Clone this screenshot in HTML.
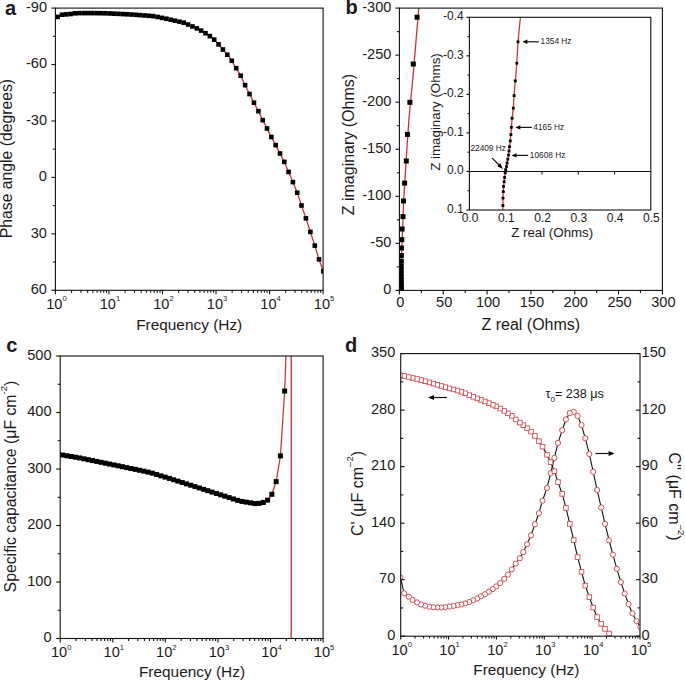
<!DOCTYPE html>
<html><head><meta charset="utf-8"><title>Figure</title><style>
html,body{margin:0;padding:0;background:#fff;width:685px;height:680px;overflow:hidden}
svg{display:block}
text{font-family:"Liberation Sans",sans-serif}
</style></head><body>
<svg width="685" height="680" viewBox="0 0 685 680" font-family='"Liberation Sans", sans-serif' fill="#1a1a1a"><defs><clipPath id="ca"><rect x="55.4" y="8.1" width="267.70000000000005" height="282.2"/></clipPath><clipPath id="cb"><rect x="399.4" y="8.1" width="263.0" height="282.29999999999995"/></clipPath><clipPath id="ci"><rect x="469.4" y="17.3" width="181.39999999999998" height="192.7"/></clipPath><clipPath id="cc"><rect x="60.2" y="356.0" width="262.90000000000003" height="282.5"/></clipPath><clipPath id="cd"><rect x="400.7" y="353.6" width="239.3" height="282.6"/></clipPath></defs><rect width="685" height="680" fill="#fff"/><g clip-path="url(#ca)">
<polyline points="200.00,29.93 201.00,30.51 202.00,31.09 203.00,31.67 204.00,32.25 205.00,32.91 206.00,33.57 207.00,34.23 208.00,34.88 209.00,35.54 210.00,36.20 211.00,37.02 212.00,37.84 213.00,38.65 214.00,39.47 215.00,40.46 216.00,41.56 217.00,42.65 218.00,43.75 219.00,44.89 220.00,46.07 221.00,47.25 222.00,48.44 223.00,49.62 224.00,50.80 225.00,51.97 226.00,53.15 227.00,54.33 228.00,55.62 229.00,56.98 230.00,58.35 231.00,59.71 232.00,61.14 233.00,62.82 234.00,64.50 235.00,66.18 236.00,67.86 237.00,69.55 238.00,71.23 239.00,72.91 240.00,74.59 241.00,76.46 242.00,78.60 243.00,80.75 244.00,82.90 245.00,85.00 246.00,87.00 247.00,89.00 248.00,91.00 249.00,93.00 250.00,94.96 251.00,96.91 252.00,98.87 253.00,100.82 254.00,102.76 255.00,104.68 256.00,106.60 257.00,108.51 258.00,110.43 259.00,112.44 260.00,114.52 261.00,116.59 262.00,118.66 263.00,120.67 264.00,122.60 265.00,124.53 266.00,126.46 267.00,128.40 268.00,130.38 269.00,132.35 270.00,134.33 271.00,136.31 272.00,138.22 273.00,140.10 274.00,141.99 275.00,143.87 276.00,145.77 277.00,147.70 278.00,149.64 279.00,151.57 280.00,153.50 281.00,155.45 282.00,157.41 283.00,159.36 284.00,161.32 285.00,163.50 286.00,165.85 287.00,168.19 288.00,170.53 289.00,172.87 290.00,175.24 291.00,177.60 292.00,179.97 293.00,182.35 294.00,184.83 295.00,187.30 296.00,189.78 297.00,192.26 298.00,195.08 299.00,198.06 300.00,201.04 301.00,204.01 302.00,206.94 303.00,209.83 304.00,212.72 305.00,215.60 306.00,218.51 307.00,221.57 308.00,224.64 309.00,227.71 310.00,230.77 311.00,233.85 312.00,236.95 313.00,240.04 314.00,243.13 315.00,246.25 316.00,249.51 317.00,252.78 318.00,256.04 319.00,259.30 320.00,262.09 321.00,264.88 322.00,267.67 323.00,270.46 324.00,273.67 325.00,277.06" fill="none" stroke="#cc3030" stroke-width="1.25"/>
<rect x="321.00" y="269.00" width="4.6" height="4.6" fill="#000"/>
<rect x="316.70" y="257.00" width="4.6" height="4.6" fill="#000"/>
<rect x="312.50" y="243.30" width="4.6" height="4.6" fill="#000"/>
<rect x="308.07" y="229.60" width="4.6" height="4.6" fill="#000"/>
<rect x="303.63" y="216.00" width="4.6" height="4.6" fill="#000"/>
<rect x="299.20" y="203.20" width="4.6" height="4.6" fill="#000"/>
<rect x="294.90" y="190.45" width="4.6" height="4.6" fill="#000"/>
<rect x="290.60" y="179.80" width="4.6" height="4.6" fill="#000"/>
<rect x="286.30" y="169.63" width="4.6" height="4.6" fill="#000"/>
<rect x="282.00" y="159.60" width="4.6" height="4.6" fill="#000"/>
<rect x="277.70" y="151.20" width="4.6" height="4.6" fill="#000"/>
<rect x="273.38" y="142.85" width="4.6" height="4.6" fill="#000"/>
<rect x="269.06" y="134.71" width="4.6" height="4.6" fill="#000"/>
<rect x="264.74" y="126.18" width="4.6" height="4.6" fill="#000"/>
<rect x="260.42" y="117.82" width="4.6" height="4.6" fill="#000"/>
<rect x="256.10" y="108.90" width="4.6" height="4.6" fill="#000"/>
<rect x="251.66" y="100.38" width="4.6" height="4.6" fill="#000"/>
<rect x="247.22" y="91.72" width="4.6" height="4.6" fill="#000"/>
<rect x="242.78" y="82.86" width="4.6" height="4.6" fill="#000"/>
<rect x="238.34" y="73.39" width="4.6" height="4.6" fill="#000"/>
<rect x="233.90" y="65.90" width="4.6" height="4.6" fill="#000"/>
<rect x="229.47" y="58.45" width="4.6" height="4.6" fill="#000"/>
<rect x="225.03" y="52.42" width="4.6" height="4.6" fill="#000"/>
<rect x="220.60" y="47.20" width="4.6" height="4.6" fill="#000"/>
<rect x="216.25" y="42.06" width="4.6" height="4.6" fill="#000"/>
<rect x="211.90" y="37.34" width="4.6" height="4.6" fill="#000"/>
<rect x="207.55" y="33.80" width="4.6" height="4.6" fill="#000"/>
<rect x="203.20" y="30.94" width="4.6" height="4.6" fill="#000"/>
<rect x="198.85" y="28.30" width="4.6" height="4.6" fill="#000"/>
<rect x="194.50" y="26.08" width="4.6" height="4.6" fill="#000"/>
<rect x="190.15" y="24.17" width="4.6" height="4.6" fill="#000"/>
<rect x="185.80" y="22.25" width="4.6" height="4.6" fill="#000"/>
<rect x="181.45" y="20.39" width="4.6" height="4.6" fill="#000"/>
<rect x="177.10" y="19.39" width="4.6" height="4.6" fill="#000"/>
<rect x="172.75" y="18.39" width="4.6" height="4.6" fill="#000"/>
<rect x="168.40" y="17.39" width="4.6" height="4.6" fill="#000"/>
<rect x="164.05" y="16.45" width="4.6" height="4.6" fill="#000"/>
<rect x="159.70" y="15.55" width="4.6" height="4.6" fill="#000"/>
<rect x="155.35" y="14.65" width="4.6" height="4.6" fill="#000"/>
<rect x="151.00" y="13.85" width="4.6" height="4.6" fill="#000"/>
<rect x="146.65" y="13.51" width="4.6" height="4.6" fill="#000"/>
<rect x="142.30" y="13.17" width="4.6" height="4.6" fill="#000"/>
<rect x="137.95" y="12.83" width="4.6" height="4.6" fill="#000"/>
<rect x="133.60" y="12.50" width="4.6" height="4.6" fill="#000"/>
<rect x="129.25" y="12.23" width="4.6" height="4.6" fill="#000"/>
<rect x="124.90" y="12.01" width="4.6" height="4.6" fill="#000"/>
<rect x="120.55" y="11.79" width="4.6" height="4.6" fill="#000"/>
<rect x="116.20" y="11.58" width="4.6" height="4.6" fill="#000"/>
<rect x="111.85" y="11.38" width="4.6" height="4.6" fill="#000"/>
<rect x="107.50" y="11.17" width="4.6" height="4.6" fill="#000"/>
<rect x="103.15" y="10.97" width="4.6" height="4.6" fill="#000"/>
<rect x="98.80" y="10.88" width="4.6" height="4.6" fill="#000"/>
<rect x="94.45" y="10.85" width="4.6" height="4.6" fill="#000"/>
<rect x="90.10" y="10.82" width="4.6" height="4.6" fill="#000"/>
<rect x="85.75" y="10.81" width="4.6" height="4.6" fill="#000"/>
<rect x="81.40" y="10.82" width="4.6" height="4.6" fill="#000"/>
<rect x="77.05" y="10.84" width="4.6" height="4.6" fill="#000"/>
<rect x="72.70" y="11.01" width="4.6" height="4.6" fill="#000"/>
<rect x="68.35" y="11.70" width="4.6" height="4.6" fill="#000"/>
<rect x="64.00" y="12.08" width="4.6" height="4.6" fill="#000"/>
<rect x="59.65" y="12.40" width="4.6" height="4.6" fill="#000"/>
<rect x="55.30" y="14.60" width="4.6" height="4.6" fill="#000"/>
<rect x="50.95" y="15.23" width="4.6" height="4.6" fill="#000"/>
<rect x="46.60" y="15.70" width="4.6" height="4.6" fill="#000"/>
</g>
<rect x="55.40" y="8.10" width="267.70" height="282.20" fill="none" stroke="#111" stroke-width="1.1"/>
<line x1="55.40" y1="8.10" x2="51.40" y2="8.10" stroke="#111" stroke-width="1.1" />
<line x1="55.40" y1="64.54" x2="51.40" y2="64.54" stroke="#111" stroke-width="1.1" />
<line x1="55.40" y1="120.98" x2="51.40" y2="120.98" stroke="#111" stroke-width="1.1" />
<line x1="55.40" y1="177.42" x2="51.40" y2="177.42" stroke="#111" stroke-width="1.1" />
<line x1="55.40" y1="233.86" x2="51.40" y2="233.86" stroke="#111" stroke-width="1.1" />
<line x1="55.40" y1="290.30" x2="51.40" y2="290.30" stroke="#111" stroke-width="1.1" />
<line x1="55.40" y1="36.32" x2="52.90" y2="36.32" stroke="#111" stroke-width="1.1" />
<line x1="55.40" y1="92.76" x2="52.90" y2="92.76" stroke="#111" stroke-width="1.1" />
<line x1="55.40" y1="149.20" x2="52.90" y2="149.20" stroke="#111" stroke-width="1.1" />
<line x1="55.40" y1="205.64" x2="52.90" y2="205.64" stroke="#111" stroke-width="1.1" />
<line x1="55.40" y1="262.08" x2="52.90" y2="262.08" stroke="#111" stroke-width="1.1" />
<text transform="translate(47.00,11.90) scale(1,1.06)" font-size="14.6" text-anchor="end" >-90</text>
<text transform="translate(47.00,68.34) scale(1,1.06)" font-size="14.6" text-anchor="end" >-60</text>
<text transform="translate(47.00,124.78) scale(1,1.06)" font-size="14.6" text-anchor="end" >-30</text>
<text transform="translate(47.00,181.22) scale(1,1.06)" font-size="14.6" text-anchor="end" >0</text>
<text transform="translate(47.00,237.66) scale(1,1.06)" font-size="14.6" text-anchor="end" >30</text>
<text transform="translate(47.00,294.10) scale(1,1.06)" font-size="14.6" text-anchor="end" >60</text>
<line x1="55.40" y1="290.30" x2="55.40" y2="294.30" stroke="#111" stroke-width="1.1" />
<line x1="71.52" y1="290.30" x2="71.52" y2="292.80" stroke="#111" stroke-width="1.1" />
<line x1="80.95" y1="290.30" x2="80.95" y2="292.80" stroke="#111" stroke-width="1.1" />
<line x1="87.63" y1="290.30" x2="87.63" y2="292.80" stroke="#111" stroke-width="1.1" />
<line x1="92.82" y1="290.30" x2="92.82" y2="292.80" stroke="#111" stroke-width="1.1" />
<line x1="97.06" y1="290.30" x2="97.06" y2="292.80" stroke="#111" stroke-width="1.1" />
<line x1="100.65" y1="290.30" x2="100.65" y2="292.80" stroke="#111" stroke-width="1.1" />
<line x1="103.75" y1="290.30" x2="103.75" y2="292.80" stroke="#111" stroke-width="1.1" />
<line x1="106.49" y1="290.30" x2="106.49" y2="292.80" stroke="#111" stroke-width="1.1" />
<text transform="translate(56.40,308.90) scale(1,1.06)" font-size="14.6" text-anchor="middle">10<tspan font-size="7.6" dy="-7.08">0</tspan></text>
<line x1="108.94" y1="290.30" x2="108.94" y2="294.30" stroke="#111" stroke-width="1.1" />
<line x1="125.06" y1="290.30" x2="125.06" y2="292.80" stroke="#111" stroke-width="1.1" />
<line x1="134.49" y1="290.30" x2="134.49" y2="292.80" stroke="#111" stroke-width="1.1" />
<line x1="141.17" y1="290.30" x2="141.17" y2="292.80" stroke="#111" stroke-width="1.1" />
<line x1="146.36" y1="290.30" x2="146.36" y2="292.80" stroke="#111" stroke-width="1.1" />
<line x1="150.60" y1="290.30" x2="150.60" y2="292.80" stroke="#111" stroke-width="1.1" />
<line x1="154.19" y1="290.30" x2="154.19" y2="292.80" stroke="#111" stroke-width="1.1" />
<line x1="157.29" y1="290.30" x2="157.29" y2="292.80" stroke="#111" stroke-width="1.1" />
<line x1="160.03" y1="290.30" x2="160.03" y2="292.80" stroke="#111" stroke-width="1.1" />
<text transform="translate(109.94,308.90) scale(1,1.06)" font-size="14.6" text-anchor="middle">10<tspan font-size="7.6" dy="-7.08">1</tspan></text>
<line x1="162.48" y1="290.30" x2="162.48" y2="294.30" stroke="#111" stroke-width="1.1" />
<line x1="178.60" y1="290.30" x2="178.60" y2="292.80" stroke="#111" stroke-width="1.1" />
<line x1="188.03" y1="290.30" x2="188.03" y2="292.80" stroke="#111" stroke-width="1.1" />
<line x1="194.71" y1="290.30" x2="194.71" y2="292.80" stroke="#111" stroke-width="1.1" />
<line x1="199.90" y1="290.30" x2="199.90" y2="292.80" stroke="#111" stroke-width="1.1" />
<line x1="204.14" y1="290.30" x2="204.14" y2="292.80" stroke="#111" stroke-width="1.1" />
<line x1="207.73" y1="290.30" x2="207.73" y2="292.80" stroke="#111" stroke-width="1.1" />
<line x1="210.83" y1="290.30" x2="210.83" y2="292.80" stroke="#111" stroke-width="1.1" />
<line x1="213.57" y1="290.30" x2="213.57" y2="292.80" stroke="#111" stroke-width="1.1" />
<text transform="translate(163.48,308.90) scale(1,1.06)" font-size="14.6" text-anchor="middle">10<tspan font-size="7.6" dy="-7.08">2</tspan></text>
<line x1="216.02" y1="290.30" x2="216.02" y2="294.30" stroke="#111" stroke-width="1.1" />
<line x1="232.14" y1="290.30" x2="232.14" y2="292.80" stroke="#111" stroke-width="1.1" />
<line x1="241.57" y1="290.30" x2="241.57" y2="292.80" stroke="#111" stroke-width="1.1" />
<line x1="248.25" y1="290.30" x2="248.25" y2="292.80" stroke="#111" stroke-width="1.1" />
<line x1="253.44" y1="290.30" x2="253.44" y2="292.80" stroke="#111" stroke-width="1.1" />
<line x1="257.68" y1="290.30" x2="257.68" y2="292.80" stroke="#111" stroke-width="1.1" />
<line x1="261.27" y1="290.30" x2="261.27" y2="292.80" stroke="#111" stroke-width="1.1" />
<line x1="264.37" y1="290.30" x2="264.37" y2="292.80" stroke="#111" stroke-width="1.1" />
<line x1="267.11" y1="290.30" x2="267.11" y2="292.80" stroke="#111" stroke-width="1.1" />
<text transform="translate(217.02,308.90) scale(1,1.06)" font-size="14.6" text-anchor="middle">10<tspan font-size="7.6" dy="-7.08">3</tspan></text>
<line x1="269.56" y1="290.30" x2="269.56" y2="294.30" stroke="#111" stroke-width="1.1" />
<line x1="285.68" y1="290.30" x2="285.68" y2="292.80" stroke="#111" stroke-width="1.1" />
<line x1="295.11" y1="290.30" x2="295.11" y2="292.80" stroke="#111" stroke-width="1.1" />
<line x1="301.79" y1="290.30" x2="301.79" y2="292.80" stroke="#111" stroke-width="1.1" />
<line x1="306.98" y1="290.30" x2="306.98" y2="292.80" stroke="#111" stroke-width="1.1" />
<line x1="311.22" y1="290.30" x2="311.22" y2="292.80" stroke="#111" stroke-width="1.1" />
<line x1="314.81" y1="290.30" x2="314.81" y2="292.80" stroke="#111" stroke-width="1.1" />
<line x1="317.91" y1="290.30" x2="317.91" y2="292.80" stroke="#111" stroke-width="1.1" />
<line x1="320.65" y1="290.30" x2="320.65" y2="292.80" stroke="#111" stroke-width="1.1" />
<text transform="translate(270.56,308.90) scale(1,1.06)" font-size="14.6" text-anchor="middle">10<tspan font-size="7.6" dy="-7.08">4</tspan></text>
<line x1="323.10" y1="290.30" x2="323.10" y2="294.30" stroke="#111" stroke-width="1.1" />
<text transform="translate(324.10,308.90) scale(1,1.06)" font-size="14.6" text-anchor="middle">10<tspan font-size="7.6" dy="-7.08">5</tspan></text>
<text x="189.20" y="329.60" font-size="15.4" text-anchor="middle" >Frequency (Hz)</text>
<text transform="translate(11.8,158.6) rotate(-90)" font-size="15.75" text-anchor="middle">Phase angle (degrees)</text>
<text x="5.00" y="14.60" font-size="20" text-anchor="start" font-weight="bold" >a</text>
<g clip-path="url(#cb)">
<polyline points="420.5,-10 418.8,8 414.4,60 412.7,80 410.7,100 408.9,120 406.8,150 403.7,200 402.6,230 401.8,250 400.8,271.6 399.6,291" fill="none" stroke="#cc3030" stroke-width="1.3"/>
<rect x="414.60" y="14.70" width="5" height="5" fill="#000"/>
<rect x="410.80" y="61.50" width="5" height="5" fill="#000"/>
<rect x="407.40" y="99.80" width="5" height="5" fill="#000"/>
<rect x="405.00" y="131.90" width="5" height="5" fill="#000"/>
<rect x="403.80" y="158.50" width="5" height="5" fill="#000"/>
<rect x="402.10" y="180.60" width="5" height="5" fill="#000"/>
<rect x="401.00" y="198.50" width="5" height="5" fill="#000"/>
<rect x="400.50" y="214.10" width="5" height="5" fill="#000"/>
<rect x="399.60" y="226.50" width="5" height="5" fill="#000"/>
<rect x="399.30" y="237.20" width="5" height="5" fill="#000"/>
<rect x="398.90" y="245.50" width="5" height="5" fill="#000"/>
<rect x="398.90" y="253.00" width="5" height="5" fill="#000"/>
<rect x="398.81" y="258.76" width="5" height="5" fill="#000"/>
<rect x="398.73" y="263.72" width="5" height="5" fill="#000"/>
<rect x="398.67" y="267.83" width="5" height="5" fill="#000"/>
<rect x="398.61" y="271.25" width="5" height="5" fill="#000"/>
<rect x="398.57" y="274.08" width="5" height="5" fill="#000"/>
<rect x="398.53" y="276.43" width="5" height="5" fill="#000"/>
<rect x="398.50" y="278.38" width="5" height="5" fill="#000"/>
<rect x="398.44" y="280.00" width="5" height="5" fill="#000"/>
<rect x="398.38" y="281.35" width="5" height="5" fill="#000"/>
<rect x="398.33" y="282.46" width="5" height="5" fill="#000"/>
<rect x="398.29" y="283.39" width="5" height="5" fill="#000"/>
<rect x="398.26" y="284.15" width="5" height="5" fill="#000"/>
<rect x="398.23" y="284.79" width="5" height="5" fill="#000"/>
<rect x="398.21" y="285.32" width="5" height="5" fill="#000"/>
<rect x="398.19" y="285.76" width="5" height="5" fill="#000"/>
<rect x="398.18" y="286.12" width="5" height="5" fill="#000"/>
<rect x="398.16" y="286.43" width="5" height="5" fill="#000"/>
<rect x="398.15" y="286.68" width="5" height="5" fill="#000"/>
<rect x="398.14" y="286.88" width="5" height="5" fill="#000"/>
<rect x="398.14" y="287.06" width="5" height="5" fill="#000"/>
<rect x="398.13" y="287.20" width="5" height="5" fill="#000"/>
<rect x="398.12" y="287.32" width="5" height="5" fill="#000"/>
<rect x="398.12" y="287.42" width="5" height="5" fill="#000"/>
<rect x="398.12" y="287.50" width="5" height="5" fill="#000"/>
<rect x="398.11" y="287.57" width="5" height="5" fill="#000"/>
<rect x="398.11" y="287.62" width="5" height="5" fill="#000"/>
<rect x="398.11" y="287.67" width="5" height="5" fill="#000"/>
<rect x="398.11" y="287.71" width="5" height="5" fill="#000"/>
<rect x="398.11" y="287.74" width="5" height="5" fill="#000"/>
<rect x="398.11" y="287.77" width="5" height="5" fill="#000"/>
<rect x="398.10" y="287.79" width="5" height="5" fill="#000"/>
<rect x="398.10" y="287.81" width="5" height="5" fill="#000"/>
<rect x="398.10" y="287.83" width="5" height="5" fill="#000"/>
<rect x="398.10" y="287.84" width="5" height="5" fill="#000"/>
<rect x="398.10" y="287.85" width="5" height="5" fill="#000"/>
<rect x="398.10" y="287.86" width="5" height="5" fill="#000"/>
<rect x="398.10" y="287.86" width="5" height="5" fill="#000"/>
<rect x="398.10" y="287.87" width="5" height="5" fill="#000"/>
<rect x="398.10" y="287.88" width="5" height="5" fill="#000"/>
<rect x="398.10" y="287.88" width="5" height="5" fill="#000"/>
<rect x="398.10" y="287.88" width="5" height="5" fill="#000"/>
<rect x="398.10" y="287.89" width="5" height="5" fill="#000"/>
<rect x="398.10" y="287.89" width="5" height="5" fill="#000"/>
<rect x="398.10" y="287.89" width="5" height="5" fill="#000"/>
<rect x="398.10" y="287.89" width="5" height="5" fill="#000"/>
<rect x="398.10" y="287.89" width="5" height="5" fill="#000"/>
<rect x="398.10" y="287.89" width="5" height="5" fill="#000"/>
<rect x="398.10" y="287.90" width="5" height="5" fill="#000"/>
<rect x="398.10" y="287.90" width="5" height="5" fill="#000"/>
<rect x="398.10" y="287.90" width="5" height="5" fill="#000"/>
<rect x="398.10" y="287.90" width="5" height="5" fill="#000"/>
<rect x="398.10" y="287.90" width="5" height="5" fill="#000"/>
<rect x="398.10" y="287.90" width="5" height="5" fill="#000"/>
<rect x="398.10" y="287.90" width="5" height="5" fill="#000"/>
<rect x="398.10" y="287.90" width="5" height="5" fill="#000"/>
<rect x="398.10" y="287.90" width="5" height="5" fill="#000"/>
<rect x="398.10" y="287.90" width="5" height="5" fill="#000"/>
<rect x="398.10" y="287.90" width="5" height="5" fill="#000"/>
</g>
<rect x="399.40" y="8.10" width="263.00" height="282.30" fill="none" stroke="#111" stroke-width="1.1"/>
<line x1="399.40" y1="290.40" x2="395.40" y2="290.40" stroke="#111" stroke-width="1.1" />
<line x1="399.40" y1="243.35" x2="395.40" y2="243.35" stroke="#111" stroke-width="1.1" />
<line x1="399.40" y1="196.30" x2="395.40" y2="196.30" stroke="#111" stroke-width="1.1" />
<line x1="399.40" y1="149.25" x2="395.40" y2="149.25" stroke="#111" stroke-width="1.1" />
<line x1="399.40" y1="102.20" x2="395.40" y2="102.20" stroke="#111" stroke-width="1.1" />
<line x1="399.40" y1="55.15" x2="395.40" y2="55.15" stroke="#111" stroke-width="1.1" />
<line x1="399.40" y1="8.10" x2="395.40" y2="8.10" stroke="#111" stroke-width="1.1" />
<line x1="399.40" y1="266.88" x2="396.90" y2="266.88" stroke="#111" stroke-width="1.1" />
<line x1="399.40" y1="219.82" x2="396.90" y2="219.82" stroke="#111" stroke-width="1.1" />
<line x1="399.40" y1="172.77" x2="396.90" y2="172.77" stroke="#111" stroke-width="1.1" />
<line x1="399.40" y1="125.72" x2="396.90" y2="125.72" stroke="#111" stroke-width="1.1" />
<line x1="399.40" y1="78.68" x2="396.90" y2="78.68" stroke="#111" stroke-width="1.1" />
<line x1="399.40" y1="31.63" x2="396.90" y2="31.63" stroke="#111" stroke-width="1.1" />
<line x1="399.40" y1="290.40" x2="399.40" y2="294.40" stroke="#111" stroke-width="1.1" />
<line x1="443.23" y1="290.40" x2="443.23" y2="294.40" stroke="#111" stroke-width="1.1" />
<line x1="487.07" y1="290.40" x2="487.07" y2="294.40" stroke="#111" stroke-width="1.1" />
<line x1="530.90" y1="290.40" x2="530.90" y2="294.40" stroke="#111" stroke-width="1.1" />
<line x1="574.73" y1="290.40" x2="574.73" y2="294.40" stroke="#111" stroke-width="1.1" />
<line x1="618.57" y1="290.40" x2="618.57" y2="294.40" stroke="#111" stroke-width="1.1" />
<line x1="662.40" y1="290.40" x2="662.40" y2="294.40" stroke="#111" stroke-width="1.1" />
<line x1="421.32" y1="290.40" x2="421.32" y2="292.90" stroke="#111" stroke-width="1.1" />
<line x1="465.15" y1="290.40" x2="465.15" y2="292.90" stroke="#111" stroke-width="1.1" />
<line x1="508.98" y1="290.40" x2="508.98" y2="292.90" stroke="#111" stroke-width="1.1" />
<line x1="552.82" y1="290.40" x2="552.82" y2="292.90" stroke="#111" stroke-width="1.1" />
<line x1="596.65" y1="290.40" x2="596.65" y2="292.90" stroke="#111" stroke-width="1.1" />
<line x1="640.48" y1="290.40" x2="640.48" y2="292.90" stroke="#111" stroke-width="1.1" />
<text transform="translate(391.40,294.20) scale(1,1.06)" font-size="14.6" text-anchor="end" >0</text>
<text transform="translate(400.40,306.80) scale(1,1.06)" font-size="14.6" text-anchor="middle" >0</text>
<text transform="translate(391.40,247.15) scale(1,1.06)" font-size="14.6" text-anchor="end" >-50</text>
<text transform="translate(444.23,306.80) scale(1,1.06)" font-size="14.6" text-anchor="middle" >50</text>
<text transform="translate(391.40,200.10) scale(1,1.06)" font-size="14.6" text-anchor="end" >-100</text>
<text transform="translate(488.07,306.80) scale(1,1.06)" font-size="14.6" text-anchor="middle" >100</text>
<text transform="translate(391.40,153.05) scale(1,1.06)" font-size="14.6" text-anchor="end" >-150</text>
<text transform="translate(531.90,306.80) scale(1,1.06)" font-size="14.6" text-anchor="middle" >150</text>
<text transform="translate(391.40,106.00) scale(1,1.06)" font-size="14.6" text-anchor="end" >-200</text>
<text transform="translate(575.73,306.80) scale(1,1.06)" font-size="14.6" text-anchor="middle" >200</text>
<text transform="translate(391.40,58.95) scale(1,1.06)" font-size="14.6" text-anchor="end" >-250</text>
<text transform="translate(619.57,306.80) scale(1,1.06)" font-size="14.6" text-anchor="middle" >250</text>
<text transform="translate(391.40,11.90) scale(1,1.06)" font-size="14.6" text-anchor="end" >-300</text>
<text transform="translate(663.40,306.80) scale(1,1.06)" font-size="14.6" text-anchor="middle" >300</text>
<text x="530.80" y="329.80" font-size="16.0" text-anchor="middle" >Z real (Ohms)</text>
<text transform="translate(353.8,144.6) rotate(-90)" font-size="16.0" text-anchor="middle">Z imaginary (Ohms)</text>
<text x="345.40" y="14.40" font-size="20" text-anchor="start" font-weight="bold" >b</text>
<rect x="469.4" y="17.3" width="181.39999999999998" height="192.7" fill="#fff" stroke="none"/>
<g clip-path="url(#ci)">
<line x1="469.40" y1="171.46" x2="650.80" y2="171.46" stroke="#111" stroke-width="1.1" />
<polyline points="520.60,14.00 520.48,16.00 520.33,18.00 520.14,20.00 519.94,22.00 519.74,24.00 519.55,26.00 519.35,28.00 519.16,30.00 518.96,32.00 518.76,34.00 518.57,36.00 518.37,38.00 518.18,40.00 517.99,42.00 517.88,44.00 517.76,46.00 517.65,48.00 517.54,50.00 517.43,52.00 517.32,54.00 517.20,56.00 517.09,58.00 516.98,60.00 516.87,62.00 516.73,64.00 516.56,66.00 516.39,68.00 516.22,70.00 516.05,72.00 515.88,74.00 515.72,76.00 515.55,78.00 515.38,80.00 515.21,82.00 515.05,84.00 514.88,86.00 514.72,88.00 514.56,90.00 514.39,92.00 514.23,94.00 514.07,96.00 513.95,98.00 513.82,100.00 513.69,102.00 513.57,104.00 513.44,106.00 513.31,108.00 513.08,110.00 512.84,112.00 512.60,114.00 512.36,116.00 512.12,118.00 511.96,120.00 511.81,122.00 511.65,124.00 511.50,126.00 511.35,128.00 511.22,130.00 511.08,132.00 510.94,134.00 510.77,136.00 510.58,138.00 510.39,140.00 510.15,142.00 509.87,144.00 509.60,146.00 509.35,148.00 509.12,150.00 508.88,152.00 508.63,154.00 508.35,156.00 508.00,158.00 507.65,160.00 507.28,162.00 506.93,164.00 506.59,166.00 506.11,168.00 505.63,170.00 505.30,172.00 505.02,174.00 504.78,176.00 504.53,178.00 504.30,180.00 504.07,182.00 503.86,184.00 503.64,186.00 503.51,188.00 503.39,190.00 503.28,192.00 503.19,194.00 503.10,196.00 503.00,198.00 502.97,200.00 502.95,202.00 502.92,204.00 502.88,206.00 502.82,208.00 502.76,210.00 502.70,212.00" fill="none" stroke="#cc3030" stroke-width="1.25"/>
<rect x="501.50" y="204.10" width="2.8" height="2.8" fill="#000"/>
<rect x="501.60" y="196.70" width="2.8" height="2.8" fill="#000"/>
<rect x="501.90" y="190.20" width="2.8" height="2.8" fill="#000"/>
<rect x="502.20" y="185.00" width="2.8" height="2.8" fill="#000"/>
<rect x="502.70" y="180.30" width="2.8" height="2.8" fill="#000"/>
<rect x="503.20" y="176.00" width="2.8" height="2.8" fill="#000"/>
<rect x="503.80" y="171.20" width="2.8" height="2.8" fill="#000"/>
<rect x="504.30" y="168.20" width="2.8" height="2.8" fill="#000"/>
<rect x="505.10" y="165.10" width="2.8" height="2.8" fill="#000"/>
<rect x="505.70" y="161.60" width="2.8" height="2.8" fill="#000"/>
<rect x="506.40" y="157.80" width="2.8" height="2.8" fill="#000"/>
<rect x="507.10" y="153.70" width="2.8" height="2.8" fill="#000"/>
<rect x="507.60" y="149.60" width="2.8" height="2.8" fill="#000"/>
<rect x="508.10" y="145.30" width="2.8" height="2.8" fill="#000"/>
<rect x="508.90" y="139.50" width="2.8" height="2.8" fill="#000"/>
<rect x="509.50" y="133.20" width="2.8" height="2.8" fill="#000"/>
<rect x="510.00" y="125.90" width="2.8" height="2.8" fill="#000"/>
<rect x="510.70" y="116.80" width="2.8" height="2.8" fill="#000"/>
<rect x="511.90" y="106.80" width="2.8" height="2.8" fill="#000"/>
<rect x="512.70" y="94.20" width="2.8" height="2.8" fill="#000"/>
<rect x="513.90" y="79.50" width="2.8" height="2.8" fill="#000"/>
<rect x="515.40" y="61.80" width="2.8" height="2.8" fill="#000"/>
<rect x="516.60" y="40.40" width="2.8" height="2.8" fill="#000"/>
</g>
<rect x="469.40" y="17.30" width="181.40" height="192.70" fill="none" stroke="#111" stroke-width="1.1"/>
<line x1="469.40" y1="17.30" x2="466.40" y2="17.30" stroke="#111" stroke-width="1.1" />
<line x1="469.40" y1="55.84" x2="466.40" y2="55.84" stroke="#111" stroke-width="1.1" />
<line x1="469.40" y1="94.38" x2="466.40" y2="94.38" stroke="#111" stroke-width="1.1" />
<line x1="469.40" y1="132.92" x2="466.40" y2="132.92" stroke="#111" stroke-width="1.1" />
<line x1="469.40" y1="171.46" x2="466.40" y2="171.46" stroke="#111" stroke-width="1.1" />
<line x1="469.40" y1="210.00" x2="466.40" y2="210.00" stroke="#111" stroke-width="1.1" />
<line x1="469.40" y1="36.57" x2="467.60" y2="36.57" stroke="#111" stroke-width="1.1" />
<line x1="469.40" y1="75.11" x2="467.60" y2="75.11" stroke="#111" stroke-width="1.1" />
<line x1="469.40" y1="113.65" x2="467.60" y2="113.65" stroke="#111" stroke-width="1.1" />
<line x1="469.40" y1="152.19" x2="467.60" y2="152.19" stroke="#111" stroke-width="1.1" />
<line x1="469.40" y1="190.73" x2="467.60" y2="190.73" stroke="#111" stroke-width="1.1" />
<line x1="505.68" y1="171.46" x2="505.68" y2="174.46" stroke="#111" stroke-width="1.1" />
<line x1="541.96" y1="171.46" x2="541.96" y2="174.46" stroke="#111" stroke-width="1.1" />
<line x1="578.24" y1="171.46" x2="578.24" y2="174.46" stroke="#111" stroke-width="1.1" />
<line x1="614.52" y1="171.46" x2="614.52" y2="174.46" stroke="#111" stroke-width="1.1" />
<text transform="translate(463.60,20.30) scale(1,1.06)" font-size="12.0" text-anchor="end" >-0.4</text>
<text transform="translate(463.60,58.84) scale(1,1.06)" font-size="12.0" text-anchor="end" >-0.3</text>
<text transform="translate(463.60,97.38) scale(1,1.06)" font-size="12.0" text-anchor="end" >-0.2</text>
<text transform="translate(463.60,135.92) scale(1,1.06)" font-size="12.0" text-anchor="end" >-0.1</text>
<text transform="translate(463.60,174.46) scale(1,1.06)" font-size="12.0" text-anchor="end" >0.0</text>
<text transform="translate(463.60,213.00) scale(1,1.06)" font-size="12.0" text-anchor="end" >0.1</text>
<text x="470.00" y="221.50" font-size="12.0" text-anchor="middle" >0.0</text>
<text x="506.28" y="221.50" font-size="12.0" text-anchor="middle" >0.1</text>
<text x="542.56" y="221.50" font-size="12.0" text-anchor="middle" >0.2</text>
<text x="578.84" y="221.50" font-size="12.0" text-anchor="middle" >0.3</text>
<text x="615.12" y="221.50" font-size="12.0" text-anchor="middle" >0.4</text>
<text x="651.40" y="221.50" font-size="12.0" text-anchor="middle" >0.5</text>
<text x="552.20" y="237.40" font-size="13.3" text-anchor="middle" >Z real (Ohms)</text>
<text transform="translate(439.8,112.0) rotate(-90)" font-size="13.3" text-anchor="middle">Z imaginary (Ohms)</text>
<line x1="526.40" y1="41.80" x2="538.80" y2="41.80" stroke="#111" stroke-width="1.2" />
<path d="M522.40,41.80 L527.40,39.60 L527.40,44.00 Z" fill="#000"/>
<text transform="translate(540.60,44.30) scale(1,1.1)" font-size="8.3" text-anchor="start" >1354 Hz</text>
<line x1="519.30" y1="127.40" x2="531.80" y2="127.40" stroke="#111" stroke-width="1.2" />
<path d="M515.30,127.40 L520.30,125.20 L520.30,129.60 Z" fill="#000"/>
<text transform="translate(533.30,129.90) scale(1,1.1)" font-size="8.3" text-anchor="start" >4165 Hz</text>
<line x1="515.50" y1="155.40" x2="528.20" y2="155.40" stroke="#111" stroke-width="1.2" />
<path d="M511.50,155.40 L516.50,153.20 L516.50,157.60 Z" fill="#000"/>
<text transform="translate(529.80,157.90) scale(1,1.1)" font-size="8.3" text-anchor="start" >10608 Hz</text>
<text transform="translate(470.40,151.30) scale(1,1.1)" font-size="8.3" text-anchor="start" >22409 Hz</text>
<line x1="492.20" y1="158.20" x2="499.50" y2="165.50" stroke="#111" stroke-width="1.2" />
<path d="M502.9,168.9 L497.3,166.3 L500.3,163.3 Z" fill="#000"/>
<g clip-path="url(#cc)">
<polyline points="250.00,502.77 250.50,502.85 251.00,502.93 251.50,503.02 252.00,503.10 252.50,503.18 253.00,503.27 253.50,503.35 254.00,503.43 254.50,503.52 255.00,503.60 255.50,503.57 256.00,503.54 256.50,503.51 257.00,503.49 257.50,503.46 258.00,503.43 258.50,503.40 259.00,503.37 259.50,503.34 260.00,503.31 260.50,503.29 261.00,503.26 261.50,503.23 262.00,503.20 262.50,502.92 263.00,502.65 263.50,502.37 264.00,502.09 264.50,501.82 265.00,501.54 265.50,501.26 266.00,500.99 266.50,500.71 267.00,500.43 267.50,500.16 268.00,499.55 268.50,498.87 269.00,498.18 269.50,497.49 270.00,496.81 270.50,496.12 271.00,495.43 271.50,494.75 272.00,493.90 272.50,492.43 273.00,490.95 273.50,489.48 274.00,488.00 274.50,486.52 275.00,485.05 275.50,483.57 276.00,482.10 276.50,479.39 277.00,476.38 277.50,473.37 278.00,470.36 278.50,467.34 279.00,464.33 279.50,461.32 280.00,458.31 280.50,454.38 281.00,446.79 281.50,439.20 282.00,431.60 282.50,424.01 283.00,416.42 283.50,408.82 284.00,401.23 284.50,393.64 285.00,382.17 285.50,368.11 286.00,354.06 286.50,340.00" fill="none" stroke="#cc3030" stroke-width="1.25"/>
<line x1="291.20" y1="356.00" x2="291.20" y2="638.50" stroke="#cc3030" stroke-width="1.3" />
<rect x="282.17" y="388.56" width="5" height="5" fill="#000"/>
<rect x="277.90" y="453.40" width="5" height="5" fill="#000"/>
<rect x="273.63" y="479.12" width="5" height="5" fill="#000"/>
<rect x="269.36" y="491.75" width="5" height="5" fill="#000"/>
<rect x="265.09" y="497.61" width="5" height="5" fill="#000"/>
<rect x="260.82" y="499.97" width="5" height="5" fill="#000"/>
<rect x="256.55" y="500.87" width="5" height="5" fill="#000"/>
<rect x="252.28" y="501.06" width="5" height="5" fill="#000"/>
<rect x="248.01" y="500.35" width="5" height="5" fill="#000"/>
<rect x="243.74" y="499.64" width="5" height="5" fill="#000"/>
<rect x="239.47" y="498.93" width="5" height="5" fill="#000"/>
<rect x="235.20" y="497.85" width="5" height="5" fill="#000"/>
<rect x="230.93" y="496.47" width="5" height="5" fill="#000"/>
<rect x="226.66" y="495.09" width="5" height="5" fill="#000"/>
<rect x="222.39" y="493.70" width="5" height="5" fill="#000"/>
<rect x="218.12" y="492.32" width="5" height="5" fill="#000"/>
<rect x="213.85" y="490.94" width="5" height="5" fill="#000"/>
<rect x="209.58" y="489.57" width="5" height="5" fill="#000"/>
<rect x="205.31" y="488.20" width="5" height="5" fill="#000"/>
<rect x="201.04" y="486.83" width="5" height="5" fill="#000"/>
<rect x="196.77" y="485.47" width="5" height="5" fill="#000"/>
<rect x="192.50" y="484.10" width="5" height="5" fill="#000"/>
<rect x="188.23" y="482.73" width="5" height="5" fill="#000"/>
<rect x="183.96" y="481.37" width="5" height="5" fill="#000"/>
<rect x="179.69" y="480.00" width="5" height="5" fill="#000"/>
<rect x="175.42" y="478.63" width="5" height="5" fill="#000"/>
<rect x="171.15" y="477.27" width="5" height="5" fill="#000"/>
<rect x="166.88" y="475.91" width="5" height="5" fill="#000"/>
<rect x="162.61" y="474.61" width="5" height="5" fill="#000"/>
<rect x="158.34" y="473.31" width="5" height="5" fill="#000"/>
<rect x="154.07" y="472.00" width="5" height="5" fill="#000"/>
<rect x="149.80" y="470.70" width="5" height="5" fill="#000"/>
<rect x="145.53" y="469.58" width="5" height="5" fill="#000"/>
<rect x="141.26" y="468.68" width="5" height="5" fill="#000"/>
<rect x="136.99" y="467.77" width="5" height="5" fill="#000"/>
<rect x="132.72" y="466.87" width="5" height="5" fill="#000"/>
<rect x="128.45" y="465.96" width="5" height="5" fill="#000"/>
<rect x="124.18" y="465.06" width="5" height="5" fill="#000"/>
<rect x="119.91" y="464.17" width="5" height="5" fill="#000"/>
<rect x="115.64" y="463.30" width="5" height="5" fill="#000"/>
<rect x="111.37" y="462.43" width="5" height="5" fill="#000"/>
<rect x="107.10" y="461.56" width="5" height="5" fill="#000"/>
<rect x="102.83" y="460.69" width="5" height="5" fill="#000"/>
<rect x="98.56" y="459.82" width="5" height="5" fill="#000"/>
<rect x="94.29" y="458.94" width="5" height="5" fill="#000"/>
<rect x="90.02" y="458.07" width="5" height="5" fill="#000"/>
<rect x="85.75" y="457.19" width="5" height="5" fill="#000"/>
<rect x="81.48" y="456.32" width="5" height="5" fill="#000"/>
<rect x="77.21" y="455.45" width="5" height="5" fill="#000"/>
<rect x="72.94" y="454.72" width="5" height="5" fill="#000"/>
<rect x="68.67" y="453.99" width="5" height="5" fill="#000"/>
<rect x="64.40" y="453.26" width="5" height="5" fill="#000"/>
<rect x="60.13" y="452.53" width="5" height="5" fill="#000"/>
<rect x="55.86" y="451.83" width="5" height="5" fill="#000"/>
<rect x="51.59" y="451.15" width="5" height="5" fill="#000"/>
</g>
<rect x="60.20" y="356.00" width="262.90" height="282.50" fill="none" stroke="#111" stroke-width="1.1"/>
<line x1="60.20" y1="638.50" x2="56.20" y2="638.50" stroke="#111" stroke-width="1.1" />
<line x1="60.20" y1="582.00" x2="56.20" y2="582.00" stroke="#111" stroke-width="1.1" />
<line x1="60.20" y1="525.50" x2="56.20" y2="525.50" stroke="#111" stroke-width="1.1" />
<line x1="60.20" y1="469.00" x2="56.20" y2="469.00" stroke="#111" stroke-width="1.1" />
<line x1="60.20" y1="412.50" x2="56.20" y2="412.50" stroke="#111" stroke-width="1.1" />
<line x1="60.20" y1="356.00" x2="56.20" y2="356.00" stroke="#111" stroke-width="1.1" />
<line x1="60.20" y1="610.25" x2="57.70" y2="610.25" stroke="#111" stroke-width="1.1" />
<line x1="60.20" y1="553.75" x2="57.70" y2="553.75" stroke="#111" stroke-width="1.1" />
<line x1="60.20" y1="497.25" x2="57.70" y2="497.25" stroke="#111" stroke-width="1.1" />
<line x1="60.20" y1="440.75" x2="57.70" y2="440.75" stroke="#111" stroke-width="1.1" />
<line x1="60.20" y1="384.25" x2="57.70" y2="384.25" stroke="#111" stroke-width="1.1" />
<text transform="translate(51.60,642.30) scale(1,1.06)" font-size="14.6" text-anchor="end" >0</text>
<text transform="translate(51.60,585.80) scale(1,1.06)" font-size="14.6" text-anchor="end" >100</text>
<text transform="translate(51.60,529.30) scale(1,1.06)" font-size="14.6" text-anchor="end" >200</text>
<text transform="translate(51.60,472.80) scale(1,1.06)" font-size="14.6" text-anchor="end" >300</text>
<text transform="translate(51.60,416.30) scale(1,1.06)" font-size="14.6" text-anchor="end" >400</text>
<text transform="translate(51.60,359.80) scale(1,1.06)" font-size="14.6" text-anchor="end" >500</text>
<line x1="60.20" y1="638.50" x2="60.20" y2="642.50" stroke="#111" stroke-width="1.1" />
<line x1="76.03" y1="638.50" x2="76.03" y2="641.00" stroke="#111" stroke-width="1.1" />
<line x1="85.29" y1="638.50" x2="85.29" y2="641.00" stroke="#111" stroke-width="1.1" />
<line x1="91.86" y1="638.50" x2="91.86" y2="641.00" stroke="#111" stroke-width="1.1" />
<line x1="96.95" y1="638.50" x2="96.95" y2="641.00" stroke="#111" stroke-width="1.1" />
<line x1="101.12" y1="638.50" x2="101.12" y2="641.00" stroke="#111" stroke-width="1.1" />
<line x1="104.64" y1="638.50" x2="104.64" y2="641.00" stroke="#111" stroke-width="1.1" />
<line x1="107.68" y1="638.50" x2="107.68" y2="641.00" stroke="#111" stroke-width="1.1" />
<line x1="110.37" y1="638.50" x2="110.37" y2="641.00" stroke="#111" stroke-width="1.1" />
<text transform="translate(61.20,657.10) scale(1,1.06)" font-size="14.6" text-anchor="middle">10<tspan font-size="7.6" dy="-7.08">0</tspan></text>
<line x1="112.78" y1="638.50" x2="112.78" y2="642.50" stroke="#111" stroke-width="1.1" />
<line x1="128.61" y1="638.50" x2="128.61" y2="641.00" stroke="#111" stroke-width="1.1" />
<line x1="137.87" y1="638.50" x2="137.87" y2="641.00" stroke="#111" stroke-width="1.1" />
<line x1="144.44" y1="638.50" x2="144.44" y2="641.00" stroke="#111" stroke-width="1.1" />
<line x1="149.53" y1="638.50" x2="149.53" y2="641.00" stroke="#111" stroke-width="1.1" />
<line x1="153.70" y1="638.50" x2="153.70" y2="641.00" stroke="#111" stroke-width="1.1" />
<line x1="157.22" y1="638.50" x2="157.22" y2="641.00" stroke="#111" stroke-width="1.1" />
<line x1="160.26" y1="638.50" x2="160.26" y2="641.00" stroke="#111" stroke-width="1.1" />
<line x1="162.95" y1="638.50" x2="162.95" y2="641.00" stroke="#111" stroke-width="1.1" />
<text transform="translate(113.78,657.10) scale(1,1.06)" font-size="14.6" text-anchor="middle">10<tspan font-size="7.6" dy="-7.08">1</tspan></text>
<line x1="165.36" y1="638.50" x2="165.36" y2="642.50" stroke="#111" stroke-width="1.1" />
<line x1="181.19" y1="638.50" x2="181.19" y2="641.00" stroke="#111" stroke-width="1.1" />
<line x1="190.45" y1="638.50" x2="190.45" y2="641.00" stroke="#111" stroke-width="1.1" />
<line x1="197.02" y1="638.50" x2="197.02" y2="641.00" stroke="#111" stroke-width="1.1" />
<line x1="202.11" y1="638.50" x2="202.11" y2="641.00" stroke="#111" stroke-width="1.1" />
<line x1="206.28" y1="638.50" x2="206.28" y2="641.00" stroke="#111" stroke-width="1.1" />
<line x1="209.80" y1="638.50" x2="209.80" y2="641.00" stroke="#111" stroke-width="1.1" />
<line x1="212.84" y1="638.50" x2="212.84" y2="641.00" stroke="#111" stroke-width="1.1" />
<line x1="215.53" y1="638.50" x2="215.53" y2="641.00" stroke="#111" stroke-width="1.1" />
<text transform="translate(166.36,657.10) scale(1,1.06)" font-size="14.6" text-anchor="middle">10<tspan font-size="7.6" dy="-7.08">2</tspan></text>
<line x1="217.94" y1="638.50" x2="217.94" y2="642.50" stroke="#111" stroke-width="1.1" />
<line x1="233.77" y1="638.50" x2="233.77" y2="641.00" stroke="#111" stroke-width="1.1" />
<line x1="243.03" y1="638.50" x2="243.03" y2="641.00" stroke="#111" stroke-width="1.1" />
<line x1="249.60" y1="638.50" x2="249.60" y2="641.00" stroke="#111" stroke-width="1.1" />
<line x1="254.69" y1="638.50" x2="254.69" y2="641.00" stroke="#111" stroke-width="1.1" />
<line x1="258.86" y1="638.50" x2="258.86" y2="641.00" stroke="#111" stroke-width="1.1" />
<line x1="262.38" y1="638.50" x2="262.38" y2="641.00" stroke="#111" stroke-width="1.1" />
<line x1="265.42" y1="638.50" x2="265.42" y2="641.00" stroke="#111" stroke-width="1.1" />
<line x1="268.11" y1="638.50" x2="268.11" y2="641.00" stroke="#111" stroke-width="1.1" />
<text transform="translate(218.94,657.10) scale(1,1.06)" font-size="14.6" text-anchor="middle">10<tspan font-size="7.6" dy="-7.08">3</tspan></text>
<line x1="270.52" y1="638.50" x2="270.52" y2="642.50" stroke="#111" stroke-width="1.1" />
<line x1="286.35" y1="638.50" x2="286.35" y2="641.00" stroke="#111" stroke-width="1.1" />
<line x1="295.61" y1="638.50" x2="295.61" y2="641.00" stroke="#111" stroke-width="1.1" />
<line x1="302.18" y1="638.50" x2="302.18" y2="641.00" stroke="#111" stroke-width="1.1" />
<line x1="307.27" y1="638.50" x2="307.27" y2="641.00" stroke="#111" stroke-width="1.1" />
<line x1="311.44" y1="638.50" x2="311.44" y2="641.00" stroke="#111" stroke-width="1.1" />
<line x1="314.96" y1="638.50" x2="314.96" y2="641.00" stroke="#111" stroke-width="1.1" />
<line x1="318.00" y1="638.50" x2="318.00" y2="641.00" stroke="#111" stroke-width="1.1" />
<line x1="320.69" y1="638.50" x2="320.69" y2="641.00" stroke="#111" stroke-width="1.1" />
<text transform="translate(271.52,657.10) scale(1,1.06)" font-size="14.6" text-anchor="middle">10<tspan font-size="7.6" dy="-7.08">4</tspan></text>
<line x1="323.10" y1="638.50" x2="323.10" y2="642.50" stroke="#111" stroke-width="1.1" />
<text transform="translate(324.10,657.10) scale(1,1.06)" font-size="14.6" text-anchor="middle">10<tspan font-size="7.6" dy="-7.08">5</tspan></text>
<text x="192.00" y="676.50" font-size="15.4" text-anchor="middle" >Frequency (Hz)</text>
<text transform="translate(16.0,486.6) rotate(-90)" font-size="15.8" text-anchor="middle">Specific capacitance (μF cm<tspan font-size="9.5" dy="-9.3">-2</tspan><tspan dy="9.3">)</tspan></text>
<text x="6.30" y="351.60" font-size="20" text-anchor="start" font-weight="bold" >c</text>
<g clip-path="url(#cd)">
<polyline points="398.00,375.28 399.00,375.38 400.00,375.47 401.00,375.56 402.00,375.66 403.00,375.75 404.00,375.91 405.00,376.14 406.00,376.37 407.00,376.59 408.00,376.82 409.00,377.05 410.00,377.29 411.00,377.54 412.00,377.78 413.00,378.02 414.00,378.27 415.00,378.51 416.00,378.75 417.00,379.01 418.00,379.27 419.00,379.54 420.00,379.80 421.00,380.07 422.00,380.34 423.00,380.60 424.00,380.87 425.00,381.15 426.00,381.44 427.00,381.73 428.00,382.02 429.00,382.31 430.00,382.60 431.00,382.89 432.00,383.18 433.00,383.48 434.00,383.79 435.00,384.09 436.00,384.39 437.00,384.70 438.00,385.00 439.00,385.31 440.00,385.61 441.00,385.90 442.00,386.19 443.00,386.49 444.00,386.78 445.00,387.07 446.00,387.36 447.00,387.65 448.00,387.94 449.00,388.22 450.00,388.48 451.00,388.75 452.00,389.02 453.00,389.29 454.00,389.56 455.00,389.83 456.00,390.10 457.00,390.43 458.00,390.76 459.00,391.09 460.00,391.42 461.00,391.75 462.00,392.07 463.00,392.40 464.00,392.75 465.00,393.20 466.00,393.66 467.00,394.11 468.00,394.57 469.00,395.02 470.00,395.48 471.00,395.94 472.00,396.38 473.00,396.77 474.00,397.16 475.00,397.56 476.00,397.95 477.00,398.34 478.00,398.73 479.00,399.13 480.00,399.52 481.00,399.93 482.00,400.33 483.00,400.74 484.00,401.14 485.00,401.55 486.00,401.95 487.00,402.36 488.00,402.77 489.00,403.19 490.00,403.62 491.00,404.04 492.00,404.46 493.00,404.88 494.00,405.31 495.00,405.73 496.00,406.23 497.00,406.79 498.00,407.35 499.00,407.91 500.00,408.46 501.00,409.02 502.00,409.58 503.00,410.13 504.00,410.75 505.00,411.39 506.00,412.03 507.00,412.68 508.00,413.32 509.00,413.96 510.00,414.60 511.00,415.24 512.00,416.05 513.00,416.98 514.00,417.90 515.00,418.82 516.00,419.64 517.00,420.41 518.00,421.18 519.00,421.95 520.00,422.70 521.00,423.45 522.00,424.20 523.00,424.95 524.00,425.74 525.00,426.53 526.00,427.33 527.00,428.12 528.00,428.99 529.00,429.87 530.00,430.75 531.00,431.62 532.00,432.68 533.00,433.78 534.00,434.88 535.00,435.98 536.00,437.29 537.00,438.65 538.00,440.01 539.00,441.36 540.00,442.86 541.00,444.38 542.00,445.89 543.00,447.52 544.00,449.31 545.00,451.11 546.00,452.90 547.00,454.81 548.00,456.84 549.00,458.86 550.00,460.89 551.00,463.06 552.00,465.47 553.00,467.88 554.00,470.29 555.00,473.01 556.00,476.04 557.00,479.07 558.00,482.10 559.00,484.90 560.00,487.69 561.00,490.49 562.00,493.28 563.00,496.72 564.00,500.59 565.00,504.46 566.00,508.33 567.00,512.38 568.00,516.49 569.00,520.59 570.00,524.70 571.00,528.88 572.00,533.07 573.00,537.25 574.00,541.47 575.00,545.81 576.00,550.15 577.00,554.49 578.00,558.61 579.00,562.38 580.00,566.15 581.00,569.92 582.00,573.62 583.00,577.25 584.00,580.88 585.00,584.51 586.00,587.61 587.00,590.49 588.00,593.37 589.00,596.25 590.00,599.01 591.00,601.69 592.00,604.38 593.00,607.06 594.00,609.55 595.00,611.98 596.00,614.42 597.00,616.86 598.00,618.57 599.00,620.20 600.00,621.84 601.00,623.47 602.00,624.85 603.00,626.17 604.00,627.48 605.00,628.80 606.00,629.95 607.00,631.09 608.00,632.24 609.00,633.39 610.00,635.69 611.00,638.13 612.00,640.56 613.00,643.00 614.00,644.75 615.00,646.50 616.00,648.25 617.00,650.00 618.00,651.30 619.00,652.61" fill="none" stroke="#111" stroke-width="1.1"/>
<polyline points="398.00,560.00 399.00,567.29 400.00,574.58 401.00,579.99 402.00,584.15 403.00,588.31 404.00,592.47 405.00,593.91 406.00,594.67 407.00,595.43 408.00,596.19 409.00,596.96 410.00,597.78 411.00,598.59 412.00,599.41 413.00,600.13 414.00,600.70 415.00,601.26 416.00,601.83 417.00,602.40 418.00,602.90 419.00,603.40 420.00,603.90 421.00,604.40 422.00,604.73 423.00,605.05 424.00,605.38 425.00,605.70 426.00,605.94 427.00,606.18 428.00,606.41 429.00,606.65 430.00,606.80 431.00,606.92 432.00,607.04 433.00,607.16 434.00,607.25 435.00,607.33 436.00,607.40 437.00,607.48 438.00,607.50 439.00,607.50 440.00,607.50 441.00,607.50 442.00,607.44 443.00,607.37 444.00,607.29 445.00,607.22 446.00,607.07 447.00,606.90 448.00,606.73 449.00,606.57 450.00,606.41 451.00,606.26 452.00,606.11 453.00,605.96 454.00,605.79 455.00,605.62 456.00,605.45 457.00,605.27 458.00,605.09 459.00,604.91 460.00,604.73 461.00,604.55 462.00,604.30 463.00,604.01 464.00,603.72 465.00,603.43 466.00,603.09 467.00,602.75 468.00,602.41 469.00,602.07 470.00,601.66 471.00,601.24 472.00,600.81 473.00,600.38 474.00,599.93 475.00,599.47 476.00,599.01 477.00,598.55 478.00,597.98 479.00,597.40 480.00,596.82 481.00,596.25 482.00,595.72 483.00,595.20 484.00,594.67 485.00,594.14 486.00,593.52 487.00,592.91 488.00,592.29 489.00,591.66 490.00,590.99 491.00,590.32 492.00,589.64 493.00,588.95 494.00,588.17 495.00,587.40 496.00,586.63 497.00,585.81 498.00,584.96 499.00,584.12 500.00,583.27 501.00,582.26 502.00,581.21 503.00,580.16 504.00,579.11 505.00,577.97 506.00,576.81 507.00,575.65 508.00,574.47 509.00,573.13 510.00,571.80 511.00,570.47 512.00,569.10 513.00,567.62 514.00,566.13 515.00,564.64 516.00,563.20 517.00,561.89 518.00,560.57 519.00,559.25 520.00,557.85 521.00,556.11 522.00,554.37 523.00,552.62 524.00,550.61 525.00,548.47 526.00,546.34 527.00,544.20 528.00,542.00 529.00,539.80 530.00,537.60 531.00,535.40 532.00,532.55 533.00,529.71 534.00,526.86 535.00,524.02 536.00,521.25 537.00,518.47 538.00,515.70 539.00,512.85 540.00,509.38 541.00,505.91 542.00,502.44 543.00,499.29 544.00,496.47 545.00,493.64 546.00,490.82 547.00,488.00 548.00,483.92 549.00,479.83 550.00,475.75 551.00,471.68 552.00,467.63 553.00,463.57 554.00,459.52 555.00,455.40 556.00,451.23 557.00,447.07 558.00,442.90 559.00,439.88 560.00,436.85 561.00,433.83 562.00,430.80 563.00,427.86 564.00,424.95 565.00,422.03 566.00,419.24 567.00,417.59 568.00,415.95 569.00,414.31 570.00,412.94 571.00,412.66 572.00,412.38 573.00,412.10 574.00,412.21 575.00,413.23 576.00,414.26 577.00,415.28 578.00,416.84 579.00,419.20 580.00,421.56 581.00,423.92 582.00,426.84 583.00,430.31 584.00,433.78 585.00,437.26 586.00,441.05 587.00,444.97 588.00,448.90 589.00,452.82 590.00,457.19 591.00,461.76 592.00,466.32 593.00,470.89 594.00,475.53 595.00,480.20 596.00,484.87 597.00,489.53 598.00,493.85 599.00,498.12 600.00,502.40 601.00,506.67 602.00,510.95 603.00,515.24 604.00,519.52 605.00,523.80 606.00,527.85 607.00,531.90 608.00,535.95 609.00,540.00 610.00,543.77 611.00,547.54 612.00,551.31 613.00,555.06 614.00,558.68 615.00,562.29 616.00,565.91 617.00,569.45 618.00,572.70 619.00,575.95 620.00,579.20 621.00,582.40 622.00,585.40 623.00,588.40 624.00,591.40 625.00,594.34 626.00,597.13 627.00,599.92 628.00,602.71 629.00,605.29 630.00,607.68 631.00,610.06 632.00,612.45 633.00,614.52 634.00,616.40 635.00,618.27 636.00,620.15 637.00,621.84 638.00,623.40 639.00,624.97 640.00,626.53 641.00,627.95 642.00,629.30" fill="none" stroke="#111" stroke-width="1.1"/>
<circle cx="640.40" cy="627.14" r="2.6" fill="#fff" stroke="#cf5058" stroke-width="1.0"/>
<circle cx="636.50" cy="621.06" r="2.6" fill="#fff" stroke="#cf5058" stroke-width="1.0"/>
<circle cx="632.40" cy="613.40" r="2.6" fill="#fff" stroke="#cf5058" stroke-width="1.0"/>
<circle cx="628.50" cy="604.10" r="2.6" fill="#fff" stroke="#cf5058" stroke-width="1.0"/>
<circle cx="624.70" cy="593.50" r="2.6" fill="#fff" stroke="#cf5058" stroke-width="1.0"/>
<circle cx="620.90" cy="582.10" r="2.6" fill="#fff" stroke="#cf5058" stroke-width="1.0"/>
<circle cx="616.80" cy="568.80" r="2.6" fill="#fff" stroke="#cf5058" stroke-width="1.0"/>
<circle cx="612.90" cy="554.70" r="2.6" fill="#fff" stroke="#cf5058" stroke-width="1.0"/>
<circle cx="609.10" cy="540.38" r="2.6" fill="#fff" stroke="#cf5058" stroke-width="1.0"/>
<circle cx="605.00" cy="523.80" r="2.6" fill="#fff" stroke="#cf5058" stroke-width="1.0"/>
<circle cx="601.20" cy="507.53" r="2.6" fill="#fff" stroke="#cf5058" stroke-width="1.0"/>
<circle cx="597.10" cy="490.00" r="2.6" fill="#fff" stroke="#cf5058" stroke-width="1.0"/>
<circle cx="593.20" cy="471.80" r="2.6" fill="#fff" stroke="#cf5058" stroke-width="1.0"/>
<circle cx="589.30" cy="454.00" r="2.6" fill="#fff" stroke="#cf5058" stroke-width="1.0"/>
<circle cx="585.30" cy="438.30" r="2.6" fill="#fff" stroke="#cf5058" stroke-width="1.0"/>
<circle cx="581.50" cy="425.10" r="2.6" fill="#fff" stroke="#cf5058" stroke-width="1.0"/>
<circle cx="577.60" cy="415.90" r="2.6" fill="#fff" stroke="#cf5058" stroke-width="1.0"/>
<circle cx="573.70" cy="411.90" r="2.6" fill="#fff" stroke="#cf5058" stroke-width="1.0"/>
<circle cx="569.80" cy="413.00" r="2.6" fill="#fff" stroke="#cf5058" stroke-width="1.0"/>
<circle cx="565.90" cy="419.40" r="2.6" fill="#fff" stroke="#cf5058" stroke-width="1.0"/>
<circle cx="562.20" cy="430.20" r="2.6" fill="#fff" stroke="#cf5058" stroke-width="1.0"/>
<circle cx="558.00" cy="442.90" r="2.6" fill="#fff" stroke="#cf5058" stroke-width="1.0"/>
<circle cx="554.40" cy="457.90" r="2.6" fill="#fff" stroke="#cf5058" stroke-width="1.0"/>
<circle cx="550.60" cy="473.30" r="2.6" fill="#fff" stroke="#cf5058" stroke-width="1.0"/>
<circle cx="547.00" cy="488.00" r="2.6" fill="#fff" stroke="#cf5058" stroke-width="1.0"/>
<circle cx="542.50" cy="500.70" r="2.6" fill="#fff" stroke="#cf5058" stroke-width="1.0"/>
<circle cx="538.90" cy="513.20" r="2.6" fill="#fff" stroke="#cf5058" stroke-width="1.0"/>
<circle cx="534.90" cy="524.30" r="2.6" fill="#fff" stroke="#cf5058" stroke-width="1.0"/>
<circle cx="531.00" cy="535.40" r="2.6" fill="#fff" stroke="#cf5058" stroke-width="1.0"/>
<circle cx="527.00" cy="544.20" r="2.6" fill="#fff" stroke="#cf5058" stroke-width="1.0"/>
<circle cx="523.30" cy="552.10" r="2.6" fill="#fff" stroke="#cf5058" stroke-width="1.0"/>
<circle cx="519.80" cy="558.20" r="2.6" fill="#fff" stroke="#cf5058" stroke-width="1.0"/>
<circle cx="515.70" cy="563.60" r="2.6" fill="#fff" stroke="#cf5058" stroke-width="1.0"/>
<circle cx="511.80" cy="569.40" r="2.6" fill="#fff" stroke="#cf5058" stroke-width="1.0"/>
<circle cx="507.90" cy="574.60" r="2.6" fill="#fff" stroke="#cf5058" stroke-width="1.0"/>
<circle cx="504.20" cy="578.90" r="2.6" fill="#fff" stroke="#cf5058" stroke-width="1.0"/>
<circle cx="500.20" cy="583.10" r="2.6" fill="#fff" stroke="#cf5058" stroke-width="1.0"/>
<circle cx="496.30" cy="586.40" r="2.6" fill="#fff" stroke="#cf5058" stroke-width="1.0"/>
<circle cx="492.80" cy="589.10" r="2.6" fill="#fff" stroke="#cf5058" stroke-width="1.0"/>
<circle cx="488.80" cy="591.80" r="2.6" fill="#fff" stroke="#cf5058" stroke-width="1.0"/>
<circle cx="484.90" cy="594.20" r="2.6" fill="#fff" stroke="#cf5058" stroke-width="1.0"/>
<circle cx="480.90" cy="596.30" r="2.6" fill="#fff" stroke="#cf5058" stroke-width="1.0"/>
<circle cx="477.10" cy="598.50" r="2.6" fill="#fff" stroke="#cf5058" stroke-width="1.0"/>
<circle cx="473.20" cy="600.30" r="2.6" fill="#fff" stroke="#cf5058" stroke-width="1.0"/>
<circle cx="469.20" cy="602.00" r="2.6" fill="#fff" stroke="#cf5058" stroke-width="1.0"/>
<circle cx="465.10" cy="603.40" r="2.6" fill="#fff" stroke="#cf5058" stroke-width="1.0"/>
<circle cx="461.30" cy="604.50" r="2.6" fill="#fff" stroke="#cf5058" stroke-width="1.0"/>
<circle cx="457.40" cy="605.20" r="2.6" fill="#fff" stroke="#cf5058" stroke-width="1.0"/>
<circle cx="453.40" cy="605.90" r="2.6" fill="#fff" stroke="#cf5058" stroke-width="1.0"/>
<circle cx="449.40" cy="606.50" r="2.6" fill="#fff" stroke="#cf5058" stroke-width="1.0"/>
<circle cx="445.20" cy="607.20" r="2.6" fill="#fff" stroke="#cf5058" stroke-width="1.0"/>
<circle cx="441.20" cy="607.50" r="2.6" fill="#fff" stroke="#cf5058" stroke-width="1.0"/>
<circle cx="437.30" cy="607.50" r="2.6" fill="#fff" stroke="#cf5058" stroke-width="1.0"/>
<circle cx="433.30" cy="607.20" r="2.6" fill="#fff" stroke="#cf5058" stroke-width="1.0"/>
<circle cx="429.20" cy="606.70" r="2.6" fill="#fff" stroke="#cf5058" stroke-width="1.0"/>
<circle cx="425.00" cy="605.70" r="2.6" fill="#fff" stroke="#cf5058" stroke-width="1.0"/>
<circle cx="421.00" cy="604.40" r="2.6" fill="#fff" stroke="#cf5058" stroke-width="1.0"/>
<circle cx="417.00" cy="602.40" r="2.6" fill="#fff" stroke="#cf5058" stroke-width="1.0"/>
<circle cx="412.60" cy="599.90" r="2.6" fill="#fff" stroke="#cf5058" stroke-width="1.0"/>
<circle cx="408.80" cy="596.80" r="2.6" fill="#fff" stroke="#cf5058" stroke-width="1.0"/>
<circle cx="404.20" cy="593.30" r="2.6" fill="#fff" stroke="#cf5058" stroke-width="1.0"/>
<circle cx="400.40" cy="577.50" r="2.6" fill="#fff" stroke="#cf5058" stroke-width="1.0"/>
<rect x="638.10" y="677.70" width="4.6" height="4.6" fill="#fff" stroke="#cf5058" stroke-width="0.9"/>
<rect x="634.20" y="673.13" width="4.6" height="4.6" fill="#fff" stroke="#cf5058" stroke-width="0.9"/>
<rect x="630.10" y="667.79" width="4.6" height="4.6" fill="#fff" stroke="#cf5058" stroke-width="0.9"/>
<rect x="626.20" y="662.70" width="4.6" height="4.6" fill="#fff" stroke="#cf5058" stroke-width="0.9"/>
<rect x="622.40" y="657.74" width="4.6" height="4.6" fill="#fff" stroke="#cf5058" stroke-width="0.9"/>
<rect x="618.60" y="652.79" width="4.6" height="4.6" fill="#fff" stroke="#cf5058" stroke-width="0.9"/>
<rect x="614.50" y="647.35" width="4.6" height="4.6" fill="#fff" stroke="#cf5058" stroke-width="0.9"/>
<rect x="610.60" y="640.46" width="4.6" height="4.6" fill="#fff" stroke="#cf5058" stroke-width="0.9"/>
<rect x="606.80" y="631.20" width="4.6" height="4.6" fill="#fff" stroke="#cf5058" stroke-width="0.9"/>
<rect x="602.70" y="626.50" width="4.6" height="4.6" fill="#fff" stroke="#cf5058" stroke-width="0.9"/>
<rect x="598.90" y="621.50" width="4.6" height="4.6" fill="#fff" stroke="#cf5058" stroke-width="0.9"/>
<rect x="594.80" y="614.80" width="4.6" height="4.6" fill="#fff" stroke="#cf5058" stroke-width="0.9"/>
<rect x="590.90" y="605.30" width="4.6" height="4.6" fill="#fff" stroke="#cf5058" stroke-width="0.9"/>
<rect x="587.00" y="594.81" width="4.6" height="4.6" fill="#fff" stroke="#cf5058" stroke-width="0.9"/>
<rect x="583.00" y="583.30" width="4.6" height="4.6" fill="#fff" stroke="#cf5058" stroke-width="0.9"/>
<rect x="579.20" y="569.50" width="4.6" height="4.6" fill="#fff" stroke="#cf5058" stroke-width="0.9"/>
<rect x="575.30" y="554.80" width="4.6" height="4.6" fill="#fff" stroke="#cf5058" stroke-width="0.9"/>
<rect x="571.40" y="537.88" width="4.6" height="4.6" fill="#fff" stroke="#cf5058" stroke-width="0.9"/>
<rect x="567.50" y="521.58" width="4.6" height="4.6" fill="#fff" stroke="#cf5058" stroke-width="0.9"/>
<rect x="563.60" y="505.64" width="4.6" height="4.6" fill="#fff" stroke="#cf5058" stroke-width="0.9"/>
<rect x="559.90" y="491.54" width="4.6" height="4.6" fill="#fff" stroke="#cf5058" stroke-width="0.9"/>
<rect x="555.70" y="479.80" width="4.6" height="4.6" fill="#fff" stroke="#cf5058" stroke-width="0.9"/>
<rect x="552.10" y="468.96" width="4.6" height="4.6" fill="#fff" stroke="#cf5058" stroke-width="0.9"/>
<rect x="548.30" y="459.80" width="4.6" height="4.6" fill="#fff" stroke="#cf5058" stroke-width="0.9"/>
<rect x="544.70" y="452.51" width="4.6" height="4.6" fill="#fff" stroke="#cf5058" stroke-width="0.9"/>
<rect x="540.20" y="444.35" width="4.6" height="4.6" fill="#fff" stroke="#cf5058" stroke-width="0.9"/>
<rect x="536.60" y="438.93" width="4.6" height="4.6" fill="#fff" stroke="#cf5058" stroke-width="0.9"/>
<rect x="532.60" y="433.57" width="4.6" height="4.6" fill="#fff" stroke="#cf5058" stroke-width="0.9"/>
<rect x="528.70" y="429.32" width="4.6" height="4.6" fill="#fff" stroke="#cf5058" stroke-width="0.9"/>
<rect x="524.70" y="425.82" width="4.6" height="4.6" fill="#fff" stroke="#cf5058" stroke-width="0.9"/>
<rect x="521.00" y="422.88" width="4.6" height="4.6" fill="#fff" stroke="#cf5058" stroke-width="0.9"/>
<rect x="517.50" y="420.25" width="4.6" height="4.6" fill="#fff" stroke="#cf5058" stroke-width="0.9"/>
<rect x="513.40" y="417.11" width="4.6" height="4.6" fill="#fff" stroke="#cf5058" stroke-width="0.9"/>
<rect x="509.50" y="413.57" width="4.6" height="4.6" fill="#fff" stroke="#cf5058" stroke-width="0.9"/>
<rect x="505.60" y="410.95" width="4.6" height="4.6" fill="#fff" stroke="#cf5058" stroke-width="0.9"/>
<rect x="501.90" y="408.58" width="4.6" height="4.6" fill="#fff" stroke="#cf5058" stroke-width="0.9"/>
<rect x="497.90" y="406.27" width="4.6" height="4.6" fill="#fff" stroke="#cf5058" stroke-width="0.9"/>
<rect x="494.00" y="404.10" width="4.6" height="4.6" fill="#fff" stroke="#cf5058" stroke-width="0.9"/>
<rect x="490.50" y="402.50" width="4.6" height="4.6" fill="#fff" stroke="#cf5058" stroke-width="0.9"/>
<rect x="486.50" y="400.81" width="4.6" height="4.6" fill="#fff" stroke="#cf5058" stroke-width="0.9"/>
<rect x="482.60" y="399.21" width="4.6" height="4.6" fill="#fff" stroke="#cf5058" stroke-width="0.9"/>
<rect x="478.60" y="397.59" width="4.6" height="4.6" fill="#fff" stroke="#cf5058" stroke-width="0.9"/>
<rect x="474.80" y="396.08" width="4.6" height="4.6" fill="#fff" stroke="#cf5058" stroke-width="0.9"/>
<rect x="470.90" y="394.55" width="4.6" height="4.6" fill="#fff" stroke="#cf5058" stroke-width="0.9"/>
<rect x="466.90" y="392.82" width="4.6" height="4.6" fill="#fff" stroke="#cf5058" stroke-width="0.9"/>
<rect x="462.80" y="390.95" width="4.6" height="4.6" fill="#fff" stroke="#cf5058" stroke-width="0.9"/>
<rect x="459.00" y="389.54" width="4.6" height="4.6" fill="#fff" stroke="#cf5058" stroke-width="0.9"/>
<rect x="455.10" y="388.26" width="4.6" height="4.6" fill="#fff" stroke="#cf5058" stroke-width="0.9"/>
<rect x="451.10" y="387.10" width="4.6" height="4.6" fill="#fff" stroke="#cf5058" stroke-width="0.9"/>
<rect x="447.10" y="386.02" width="4.6" height="4.6" fill="#fff" stroke="#cf5058" stroke-width="0.9"/>
<rect x="442.90" y="384.83" width="4.6" height="4.6" fill="#fff" stroke="#cf5058" stroke-width="0.9"/>
<rect x="438.90" y="383.66" width="4.6" height="4.6" fill="#fff" stroke="#cf5058" stroke-width="0.9"/>
<rect x="435.00" y="382.49" width="4.6" height="4.6" fill="#fff" stroke="#cf5058" stroke-width="0.9"/>
<rect x="431.00" y="381.27" width="4.6" height="4.6" fill="#fff" stroke="#cf5058" stroke-width="0.9"/>
<rect x="426.90" y="380.07" width="4.6" height="4.6" fill="#fff" stroke="#cf5058" stroke-width="0.9"/>
<rect x="422.70" y="378.85" width="4.6" height="4.6" fill="#fff" stroke="#cf5058" stroke-width="0.9"/>
<rect x="418.70" y="377.77" width="4.6" height="4.6" fill="#fff" stroke="#cf5058" stroke-width="0.9"/>
<rect x="414.70" y="376.71" width="4.6" height="4.6" fill="#fff" stroke="#cf5058" stroke-width="0.9"/>
<rect x="410.30" y="375.63" width="4.6" height="4.6" fill="#fff" stroke="#cf5058" stroke-width="0.9"/>
<rect x="406.50" y="374.70" width="4.6" height="4.6" fill="#fff" stroke="#cf5058" stroke-width="0.9"/>
<rect x="401.90" y="373.66" width="4.6" height="4.6" fill="#fff" stroke="#cf5058" stroke-width="0.9"/>
<rect x="398.10" y="373.21" width="4.6" height="4.6" fill="#fff" stroke="#cf5058" stroke-width="0.9"/>
</g>
<rect x="400.70" y="353.60" width="239.30" height="282.60" fill="none" stroke="#111" stroke-width="1.1"/>
<line x1="400.70" y1="636.20" x2="404.70" y2="636.20" stroke="#111" stroke-width="1.1" />
<line x1="400.70" y1="579.68" x2="404.70" y2="579.68" stroke="#111" stroke-width="1.1" />
<line x1="400.70" y1="523.16" x2="404.70" y2="523.16" stroke="#111" stroke-width="1.1" />
<line x1="400.70" y1="466.64" x2="404.70" y2="466.64" stroke="#111" stroke-width="1.1" />
<line x1="400.70" y1="410.12" x2="404.70" y2="410.12" stroke="#111" stroke-width="1.1" />
<line x1="400.70" y1="353.60" x2="404.70" y2="353.60" stroke="#111" stroke-width="1.1" />
<line x1="400.70" y1="607.94" x2="403.20" y2="607.94" stroke="#111" stroke-width="1.1" />
<line x1="400.70" y1="551.42" x2="403.20" y2="551.42" stroke="#111" stroke-width="1.1" />
<line x1="400.70" y1="494.90" x2="403.20" y2="494.90" stroke="#111" stroke-width="1.1" />
<line x1="400.70" y1="438.38" x2="403.20" y2="438.38" stroke="#111" stroke-width="1.1" />
<line x1="400.70" y1="381.86" x2="403.20" y2="381.86" stroke="#111" stroke-width="1.1" />
<line x1="640.00" y1="636.20" x2="636.00" y2="636.20" stroke="#111" stroke-width="1.1" />
<line x1="640.00" y1="579.68" x2="636.00" y2="579.68" stroke="#111" stroke-width="1.1" />
<line x1="640.00" y1="523.16" x2="636.00" y2="523.16" stroke="#111" stroke-width="1.1" />
<line x1="640.00" y1="466.64" x2="636.00" y2="466.64" stroke="#111" stroke-width="1.1" />
<line x1="640.00" y1="410.12" x2="636.00" y2="410.12" stroke="#111" stroke-width="1.1" />
<line x1="640.00" y1="353.60" x2="636.00" y2="353.60" stroke="#111" stroke-width="1.1" />
<line x1="640.00" y1="607.94" x2="637.50" y2="607.94" stroke="#111" stroke-width="1.1" />
<line x1="640.00" y1="551.42" x2="637.50" y2="551.42" stroke="#111" stroke-width="1.1" />
<line x1="640.00" y1="494.90" x2="637.50" y2="494.90" stroke="#111" stroke-width="1.1" />
<line x1="640.00" y1="438.38" x2="637.50" y2="438.38" stroke="#111" stroke-width="1.1" />
<line x1="640.00" y1="381.86" x2="637.50" y2="381.86" stroke="#111" stroke-width="1.1" />
<text transform="translate(395.30,640.00) scale(1,1.06)" font-size="14.6" text-anchor="end" >0</text>
<text transform="translate(395.30,583.48) scale(1,1.06)" font-size="14.6" text-anchor="end" >70</text>
<text transform="translate(395.30,526.96) scale(1,1.06)" font-size="14.6" text-anchor="end" >140</text>
<text transform="translate(395.30,470.44) scale(1,1.06)" font-size="14.6" text-anchor="end" >210</text>
<text transform="translate(395.30,413.92) scale(1,1.06)" font-size="14.6" text-anchor="end" >280</text>
<text transform="translate(395.30,357.40) scale(1,1.06)" font-size="14.6" text-anchor="end" >350</text>
<text transform="translate(641.60,640.00) scale(1,1.06)" font-size="14.6" text-anchor="start" >0</text>
<text transform="translate(641.60,583.48) scale(1,1.06)" font-size="14.6" text-anchor="start" >30</text>
<text transform="translate(641.60,526.96) scale(1,1.06)" font-size="14.6" text-anchor="start" >60</text>
<text transform="translate(641.60,470.44) scale(1,1.06)" font-size="14.6" text-anchor="start" >90</text>
<text transform="translate(641.60,413.92) scale(1,1.06)" font-size="14.6" text-anchor="start" >120</text>
<text transform="translate(641.60,357.40) scale(1,1.06)" font-size="14.6" text-anchor="start" >150</text>
<line x1="400.70" y1="636.20" x2="400.70" y2="639.40" stroke="#111" stroke-width="1.1" />
<line x1="415.11" y1="636.20" x2="415.11" y2="638.40" stroke="#111" stroke-width="1.1" />
<line x1="423.54" y1="636.20" x2="423.54" y2="638.40" stroke="#111" stroke-width="1.1" />
<line x1="429.51" y1="636.20" x2="429.51" y2="638.40" stroke="#111" stroke-width="1.1" />
<line x1="434.15" y1="636.20" x2="434.15" y2="638.40" stroke="#111" stroke-width="1.1" />
<line x1="437.94" y1="636.20" x2="437.94" y2="638.40" stroke="#111" stroke-width="1.1" />
<line x1="441.15" y1="636.20" x2="441.15" y2="638.40" stroke="#111" stroke-width="1.1" />
<line x1="443.92" y1="636.20" x2="443.92" y2="638.40" stroke="#111" stroke-width="1.1" />
<line x1="446.37" y1="636.20" x2="446.37" y2="638.40" stroke="#111" stroke-width="1.1" />
<text transform="translate(401.70,654.80) scale(1,1.06)" font-size="14.6" text-anchor="middle">10<tspan font-size="7.6" dy="-7.08">0</tspan></text>
<line x1="448.56" y1="636.20" x2="448.56" y2="639.40" stroke="#111" stroke-width="1.1" />
<line x1="462.97" y1="636.20" x2="462.97" y2="638.40" stroke="#111" stroke-width="1.1" />
<line x1="471.40" y1="636.20" x2="471.40" y2="638.40" stroke="#111" stroke-width="1.1" />
<line x1="477.37" y1="636.20" x2="477.37" y2="638.40" stroke="#111" stroke-width="1.1" />
<line x1="482.01" y1="636.20" x2="482.01" y2="638.40" stroke="#111" stroke-width="1.1" />
<line x1="485.80" y1="636.20" x2="485.80" y2="638.40" stroke="#111" stroke-width="1.1" />
<line x1="489.01" y1="636.20" x2="489.01" y2="638.40" stroke="#111" stroke-width="1.1" />
<line x1="491.78" y1="636.20" x2="491.78" y2="638.40" stroke="#111" stroke-width="1.1" />
<line x1="494.23" y1="636.20" x2="494.23" y2="638.40" stroke="#111" stroke-width="1.1" />
<text transform="translate(449.56,654.80) scale(1,1.06)" font-size="14.6" text-anchor="middle">10<tspan font-size="7.6" dy="-7.08">1</tspan></text>
<line x1="496.42" y1="636.20" x2="496.42" y2="639.40" stroke="#111" stroke-width="1.1" />
<line x1="510.83" y1="636.20" x2="510.83" y2="638.40" stroke="#111" stroke-width="1.1" />
<line x1="519.26" y1="636.20" x2="519.26" y2="638.40" stroke="#111" stroke-width="1.1" />
<line x1="525.23" y1="636.20" x2="525.23" y2="638.40" stroke="#111" stroke-width="1.1" />
<line x1="529.87" y1="636.20" x2="529.87" y2="638.40" stroke="#111" stroke-width="1.1" />
<line x1="533.66" y1="636.20" x2="533.66" y2="638.40" stroke="#111" stroke-width="1.1" />
<line x1="536.87" y1="636.20" x2="536.87" y2="638.40" stroke="#111" stroke-width="1.1" />
<line x1="539.64" y1="636.20" x2="539.64" y2="638.40" stroke="#111" stroke-width="1.1" />
<line x1="542.09" y1="636.20" x2="542.09" y2="638.40" stroke="#111" stroke-width="1.1" />
<text transform="translate(497.42,654.80) scale(1,1.06)" font-size="14.6" text-anchor="middle">10<tspan font-size="7.6" dy="-7.08">2</tspan></text>
<line x1="544.28" y1="636.20" x2="544.28" y2="639.40" stroke="#111" stroke-width="1.1" />
<line x1="558.69" y1="636.20" x2="558.69" y2="638.40" stroke="#111" stroke-width="1.1" />
<line x1="567.12" y1="636.20" x2="567.12" y2="638.40" stroke="#111" stroke-width="1.1" />
<line x1="573.09" y1="636.20" x2="573.09" y2="638.40" stroke="#111" stroke-width="1.1" />
<line x1="577.73" y1="636.20" x2="577.73" y2="638.40" stroke="#111" stroke-width="1.1" />
<line x1="581.52" y1="636.20" x2="581.52" y2="638.40" stroke="#111" stroke-width="1.1" />
<line x1="584.73" y1="636.20" x2="584.73" y2="638.40" stroke="#111" stroke-width="1.1" />
<line x1="587.50" y1="636.20" x2="587.50" y2="638.40" stroke="#111" stroke-width="1.1" />
<line x1="589.95" y1="636.20" x2="589.95" y2="638.40" stroke="#111" stroke-width="1.1" />
<text transform="translate(545.28,654.80) scale(1,1.06)" font-size="14.6" text-anchor="middle">10<tspan font-size="7.6" dy="-7.08">3</tspan></text>
<line x1="592.14" y1="636.20" x2="592.14" y2="639.40" stroke="#111" stroke-width="1.1" />
<line x1="606.55" y1="636.20" x2="606.55" y2="638.40" stroke="#111" stroke-width="1.1" />
<line x1="614.98" y1="636.20" x2="614.98" y2="638.40" stroke="#111" stroke-width="1.1" />
<line x1="620.95" y1="636.20" x2="620.95" y2="638.40" stroke="#111" stroke-width="1.1" />
<line x1="625.59" y1="636.20" x2="625.59" y2="638.40" stroke="#111" stroke-width="1.1" />
<line x1="629.38" y1="636.20" x2="629.38" y2="638.40" stroke="#111" stroke-width="1.1" />
<line x1="632.59" y1="636.20" x2="632.59" y2="638.40" stroke="#111" stroke-width="1.1" />
<line x1="635.36" y1="636.20" x2="635.36" y2="638.40" stroke="#111" stroke-width="1.1" />
<line x1="637.81" y1="636.20" x2="637.81" y2="638.40" stroke="#111" stroke-width="1.1" />
<text transform="translate(593.14,654.80) scale(1,1.06)" font-size="14.6" text-anchor="middle">10<tspan font-size="7.6" dy="-7.08">4</tspan></text>
<line x1="640.00" y1="636.20" x2="640.00" y2="639.40" stroke="#111" stroke-width="1.1" />
<text transform="translate(641.00,654.80) scale(1,1.06)" font-size="14.6" text-anchor="middle">10<tspan font-size="7.6" dy="-7.08">5</tspan></text>
<text x="526.30" y="675.00" font-size="15.4" text-anchor="middle" >Frequency (Hz)</text>
<text transform="translate(362.6,493.5) rotate(-90)" font-size="16.0" text-anchor="middle">C' (μF cm<tspan font-size="9.5" dy="-9.3">–2</tspan><tspan dy="9.3">)</tspan></text>
<text transform="translate(668.6,496.5) rotate(90)" font-size="16.0" text-anchor="middle">C'' (μF cm<tspan font-size="9.5" dy="-9.3">–2</tspan><tspan dy="9.3">)</tspan></text>
<text x="344.90" y="351.60" font-size="20" text-anchor="start" font-weight="bold" >d</text>
<text x="545.5" y="397.9" font-size="12.6">τ<tspan font-size="8" dy="4.4">0</tspan><tspan dy="-4.4">= 238 μs</tspan></text>
<line x1="433.20" y1="397.50" x2="446.80" y2="397.50" stroke="#111" stroke-width="1.2" />
<path d="M428.20,397.50 L434.00,395.10 L434.00,399.90 Z" fill="#000"/>
<line x1="595.30" y1="453.50" x2="609.40" y2="453.50" stroke="#111" stroke-width="1.2" />
<path d="M614.40,453.50 L608.60,451.10 L608.60,455.90 Z" fill="#000"/></svg>
</body></html>
